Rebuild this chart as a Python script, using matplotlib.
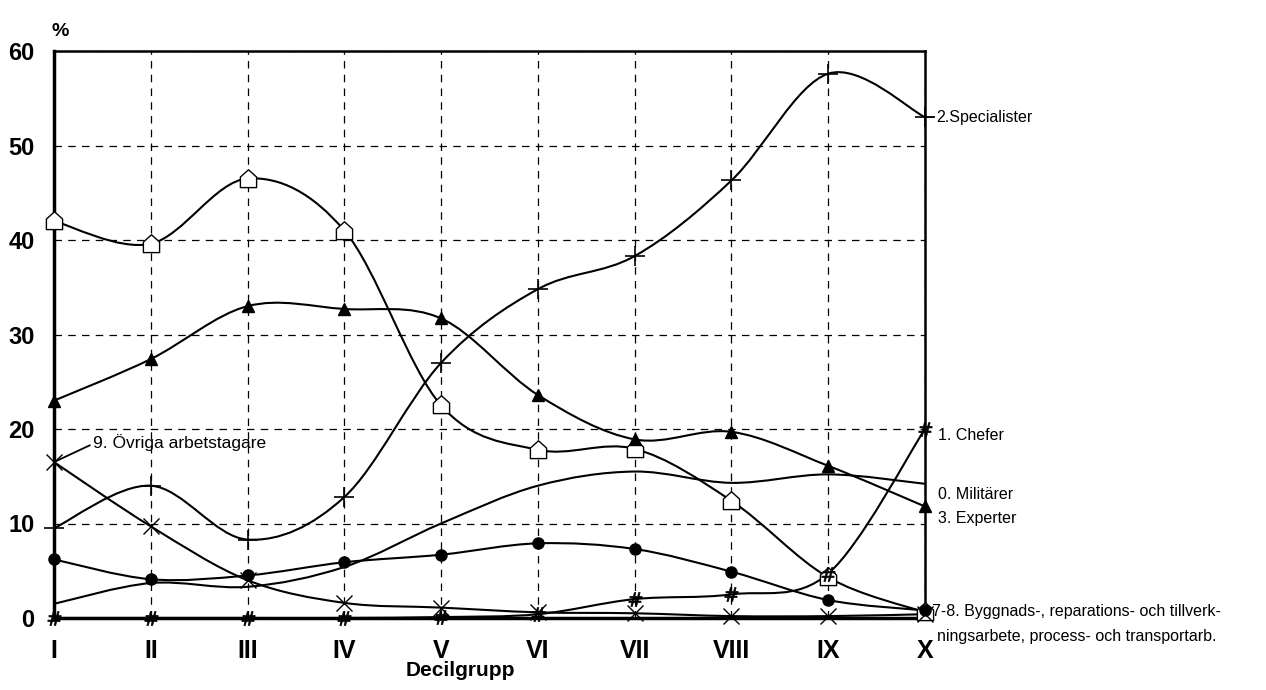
import numpy as np
import matplotlib
matplotlib.use("Agg")
import matplotlib.pyplot as plt
from matplotlib.path import Path
from matplotlib.patches import PathPatch

plt.rcParams['font.family'] = ['Liberation Sans', 'DejaVu Sans']

# Data (share in percent per decile group)
deciles = ["I", "II", "III", "IV", "V", "VI", "VII", "VIII", "IX", "X"]
specialister = [9.5, 14.0, 8.3, 12.8, 27.0, 34.8, 38.3, 46.3, 57.6, 53.0]
byggnad = [42.0, 39.6, 46.5, 41.0, 22.5, 17.8, 17.9, 12.4, 4.3, 0.6]
experter = [23.0, 27.4, 33.0, 32.7, 31.7, 23.6, 18.9, 19.7, 16.1, 11.8]
ovriga = [16.5, 9.7, 4.0, 1.6, 1.1, 0.6, 0.5, 0.2, 0.2, 0.4]
chefer = [0.0, 0.0, 0.0, 0.0, 0.1, 0.4, 2.0, 2.5, 4.7, 20.0]
militarer = [1.5, 3.7, 3.3, 5.4, 10.0, 14.0, 15.5, 14.3, 15.2, 14.2]
cirklar = [6.2, 4.1, 4.5, 5.9, 6.7, 7.9, 7.3, 4.9, 1.9, 0.8]


def smooth_path(x, y):
    # Catmull-Rom style bezier (like spreadsheet smoothed lines)
    pts = np.column_stack([x, y]).astype(float)
    verts = [pts[0]]
    codes = [Path.MOVETO]
    n = len(pts)
    for i in range(n - 1):
        p0 = pts[max(i - 1, 0)]
        p1 = pts[i]
        p2 = pts[i + 1]
        p3 = pts[min(i + 2, n - 1)]
        c1 = p1 + (p2 - p0) / 6
        c2 = p2 - (p3 - p1) / 6
        verts += [c1, c2, p2]
        codes += [Path.CURVE4] * 3
    return Path(verts, codes)


house = Path([(-1, -1), (1, -1), (1, 0.3), (0, 1.2), (-1, 0.3), (-1, -1)],
             [Path.MOVETO, Path.LINETO, Path.LINETO, Path.LINETO, Path.LINETO, Path.CLOSEPOLY])

fig = plt.figure(figsize=(12.66, 6.9), dpi=100)
ax = fig.add_axes([54 / 1266, 1 - 618 / 690, (925 - 54) / 1266, (618 - 51) / 690])

x = np.arange(len(deciles))

series = [
    (specialister, '+', 14, 'none', 1.2),
    (byggnad, house, 14, 'white', 1.0),
    (experter, '^', 9, 'black', 1.0),
    (ovriga, 'x', 12, 'none', 1.0),
    (chefer, r'$\#$', 10, 'black', 0.5),
    (militarer, None, 0, 'none', 1.0),
    (cirklar, 'o', 8, 'black', 1.0),
]

for vals, mk, ms, fc, mew in series:
    ax.add_patch(PathPatch(smooth_path(x, vals), fill=False, edgecolor='black',
                           lw=1.5, zorder=3, clip_on=False))
    if mk is not None:
        ax.plot(x, vals, linestyle='none', marker=mk, markersize=ms,
                markerfacecolor=fc, markeredgecolor='black', markeredgewidth=mew,
                zorder=4, clip_on=False)

ax.set_xlim(0, 9)
ax.set_ylim(0, 60)
ax.set_xticks(x)
ax.set_xticklabels(deciles)
ax.set_yticks(range(0, 61, 10))
ax.grid(True, color='black', linestyle=(0, (6, 5)), linewidth=0.9)
ax.set_axisbelow(True)
ax.tick_params(axis='both', length=0)
ax.tick_params(axis='x', pad=15, labelsize=18)
ax.tick_params(axis='y', pad=14, labelsize=17)
for lab in ax.get_xticklabels() + ax.get_yticklabels():
    lab.set_fontweight('bold')

for side in ['left', 'bottom']:
    ax.spines[side].set_linewidth(2.5)
for side in ['top', 'right']:
    ax.spines[side].set_linewidth(1.8)

ax.set_xlabel("Decilgrupp", fontsize=15, fontweight='bold', va='top')
ax.xaxis.set_label_coords((460 - 54) / 871, -0.075)
ax.text(-0.003, 1.02, "%", transform=ax.transAxes, fontsize=14, fontweight='bold',
        ha='left', va='bottom')

# line labels on the right
lab_kw = dict(fontsize=11.5, ha='left', va='center', annotation_clip=False)
ax.annotate("2.Specialister", xy=(9, specialister[-1]), xytext=(9.12, specialister[-1]),
            arrowprops=dict(arrowstyle='-', lw=1, shrinkA=0, shrinkB=0), **lab_kw)
ax.annotate("1. Chefer", xy=(9.13, 19.3), **lab_kw)
ax.annotate("0. Militärer", xy=(9.13, 13.1), **lab_kw)
ax.annotate("3. Experter", xy=(9.13, 10.5), **lab_kw)
ax.annotate("7-8. Byggnads-, reparations- och tillverk-", xy=(9.07, 0.7), **lab_kw)
ax.annotate("ningsarbete, process- och transportarb.", xy=(9.12, -2.0), **lab_kw)
ax.annotate("9. Övriga arbetstagare", xy=(0, ovriga[0]), xytext=(0.4, 18.6),
            fontsize=12.5, ha='left', va='center',
            arrowprops=dict(arrowstyle='-', lw=1.3, shrinkA=0, shrinkB=0,
                            relpos=(0, 0.4)))

plt.savefig("out.png", dpi=100)
